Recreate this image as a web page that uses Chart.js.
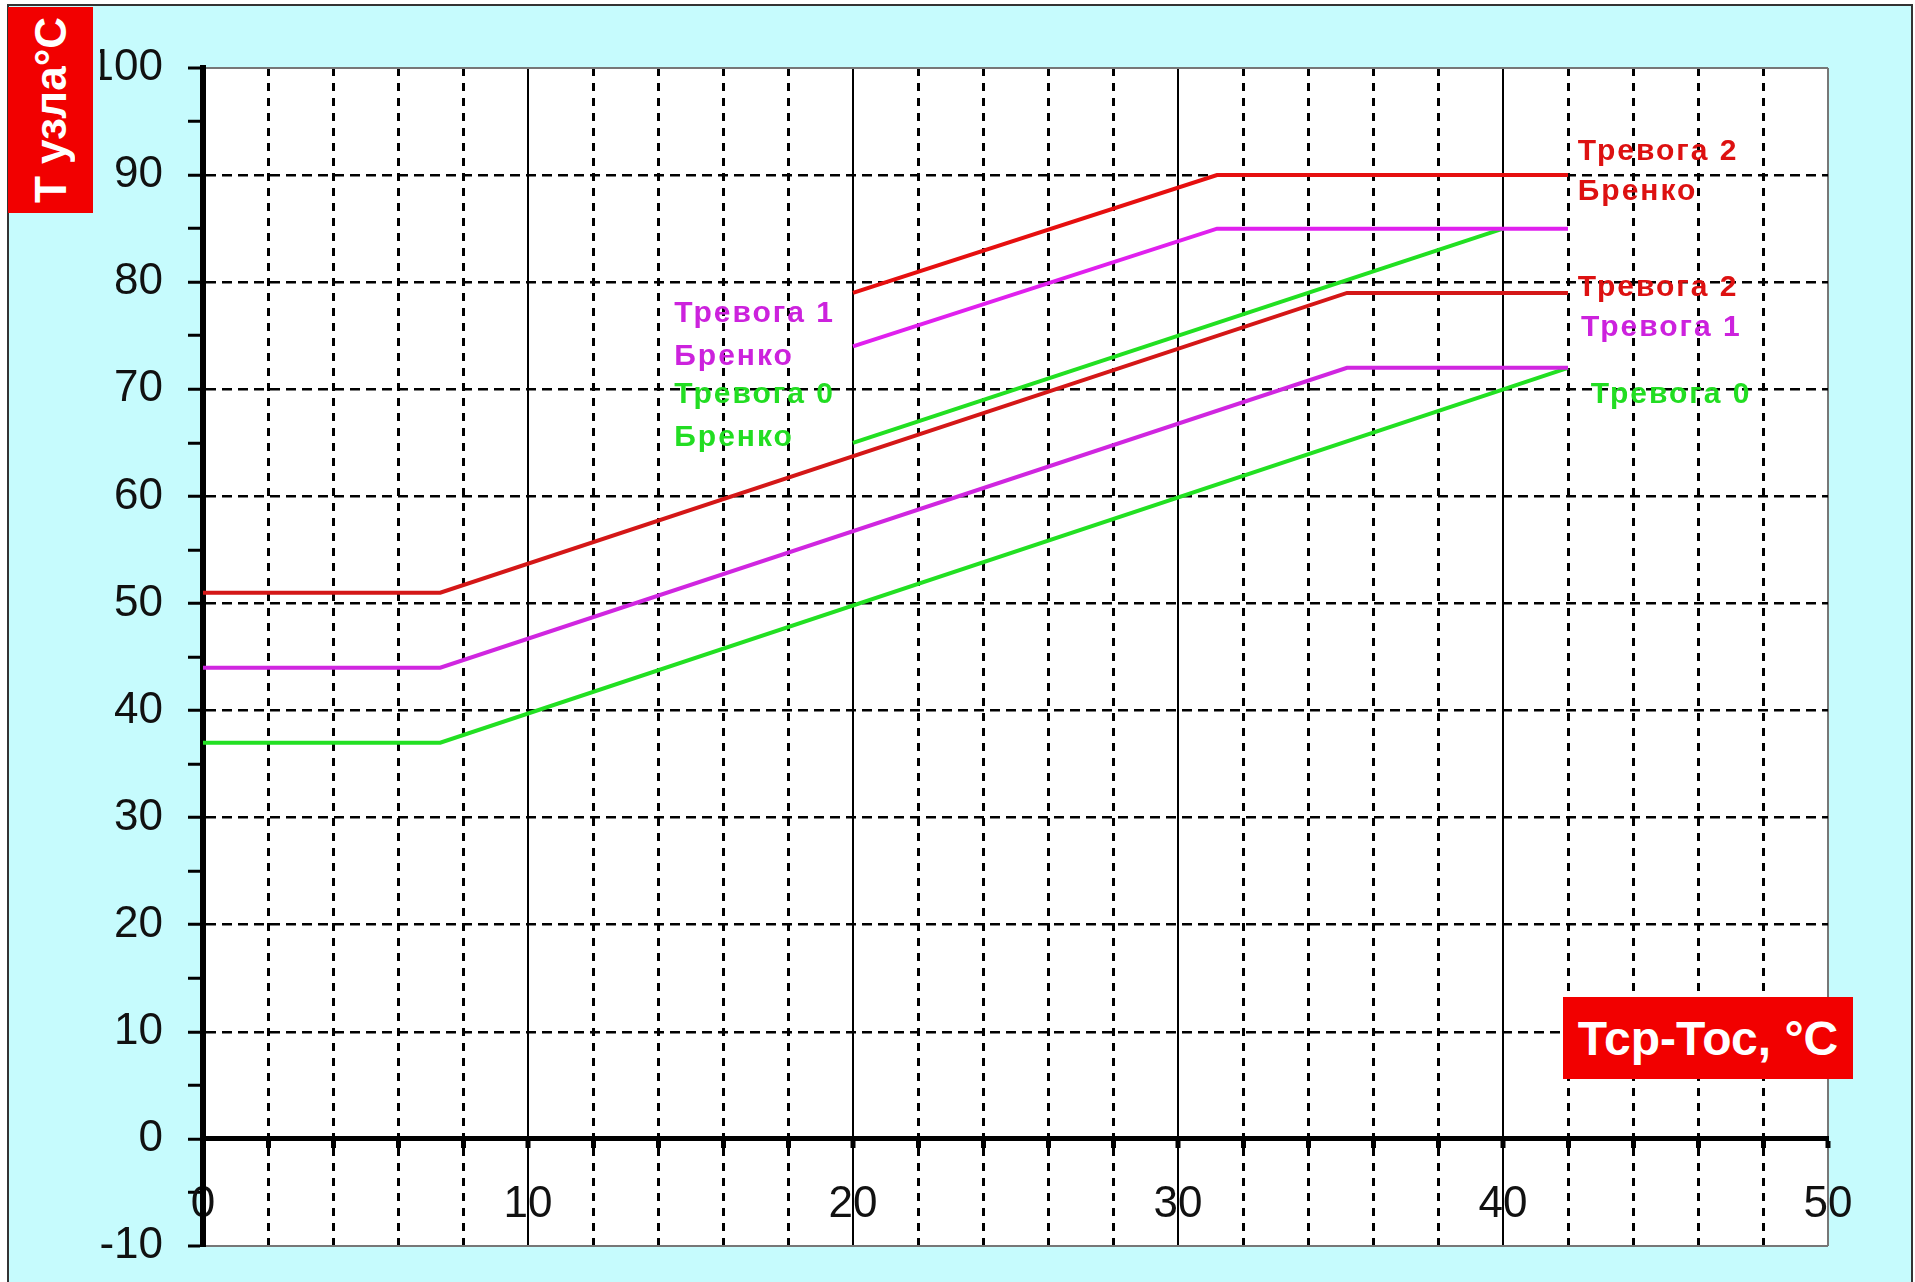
<!DOCTYPE html>
<html>
<head>
<meta charset="utf-8">
<script src="https://cdn.jsdelivr.net/npm/chart.js@4.4.1/dist/chart.umd.min.js"></script>
<style>
  body { margin: 0; background: #fff; width: 1915px; height: 1282px; overflow: hidden; position: relative; }
  .frame { position: absolute; left: 7px; top: 4px; right: 2px; bottom: -10px; border: 2px solid #333; background: #c6fbfd; }
  #myChart { position: absolute; left: 0; top: 0; }
  .titre { position: absolute; background: #f20000; color: #fff; font-family: "Liberation Sans", Arial, sans-serif; font-weight: bold;
           display: flex; align-items: center; justify-content: center; }
  .titre--y { left: 8px; top: 7px; width: 85px; height: 206px; font-size: 44px; }
  .titre--y span { writing-mode: vertical-rl; transform: rotate(180deg); }
  .titre--x { left: 1563px; top: 997px; width: 290px; height: 82px; font-size: 48px; }
</style>
</head>
<body>
<div class="frame"></div>
<canvas id="myChart" width="1915" height="1282"></canvas>
<div class="titre titre--y"><span>Т узла°С</span></div>
<div class="titre titre--x">Тср-Тос, °С</div>
<script>
// ---- donnees ----
const xBrenko2 = [20, 31.2, 42];
const yBrenko2 = [79, 90, 90];
const xBrenko1 = [20, 31.2, 42];
const yBrenko1 = [74, 85, 85];
const xBrenko0 = [20, 40];
const yBrenko0 = [65, 85];

const xAlarm2 = [0, 7.3, 35.2, 42];
const yAlarm2 = [51, 51, 79, 79];
const xAlarm1 = [0, 7.3, 35.2, 42];
const yAlarm1 = [44, 44, 72, 72];
const xAlarm0 = [0, 7.3, 42];
const yAlarm0 = [37, 37, 72];

// etiquettes des courbes (texte, x, y)
const labelTexts = ["Тревога 2", "Бренко", "Тревога 2", "Тревога 1", "Тревога 0",
                    "Тревога 1", "Бренко", "Тревога 0", "Бренко"];
const labelX = [42.3, 42.3, 42.3, 42.4, 42.7, 14.5, 14.5, 14.5, 14.5];
const labelY = [92.2, 88.4, 79.5, 75.7, 69.5, 77.1, 73.0, 69.5, 65.5];
const labelColors = ["#dd1111", "#dd1111", "#dd1111", "#cc22dd", "#22dd22",
                     "#cc22dd", "#cc22dd", "#22dd22", "#22dd22"];

const toPoints = (xs, ys) => xs.map((x, i) => ({ x: x, y: ys[i] }));

const makeLine = (label, xs, ys, color) => ({
  label: label,
  data: toPoints(xs, ys),
  borderColor: color,
  borderWidth: 4,
  showLine: true,
  pointRadius: 0,
  tension: 0,
  fill: false
});

// fond blanc de la zone du graphique
const plotBackground = {
  id: 'plotBackground',
  beforeDraw(chart) {
    const { ctx, chartArea } = chart;
    ctx.save();
    ctx.fillStyle = '#fff';
    ctx.fillRect(chartArea.left, chartArea.top, chartArea.right - chartArea.left, chartArea.bottom - chartArea.top);
    ctx.restore();
  }
};

// textes "Тревога ..." places avec les echelles
const curveLabels = {
  id: 'curveLabels',
  afterDatasetsDraw(chart) {
    const { ctx, scales } = chart;
    ctx.save();
    ctx.font = 'bold 30px "Liberation Sans", Arial, sans-serif';
    ctx.letterSpacing = '2px';
    ctx.textAlign = 'left';
    ctx.textBaseline = 'middle';
    labelTexts.forEach((txt, i) => {
      ctx.fillStyle = labelColors[i];
      ctx.fillText(txt, scales.x.getPixelForValue(labelX[i]), scales.y.getPixelForValue(labelY[i]));
    });
    ctx.restore();
  }
};

const isTen = v => v % 10 === 0;

new Chart(document.getElementById('myChart'), {
  type: 'scatter',
  data: {
    datasets: [
      makeLine('Тревога 2 Бренко', xBrenko2, yBrenko2, '#e60f0f'),
      makeLine('Тревога 1 Бренко', xBrenko1, yBrenko1, '#e020ee'),
      makeLine('Тревога 0 Бренко', xBrenko0, yBrenko0, '#22e022'),
      makeLine('Тревога 2', xAlarm2, yAlarm2, '#d41717'),
      makeLine('Тревога 1', xAlarm1, yAlarm1, '#d026e0'),
      makeLine('Тревога 0', xAlarm0, yAlarm0, '#22e022')
    ]
  },
  options: {
    responsive: false,
    animation: false,
    layout: { padding: { left: 100, top: 68, right: 87, bottom: 36 } },
    plugins: { legend: { display: false }, tooltip: { enabled: false } },
    scales: {
      x: {
        type: 'linear',
        min: 0,
        max: 50,
        position: { y: 0 },
        afterFit: s => { s.paddingLeft = 0; s.paddingRight = 0; },
        ticks: {
          stepSize: 2,
          autoSkip: false,
          maxRotation: 0,
          padding: 33,
          color: '#111',
          font: { family: '"Liberation Sans", Arial, sans-serif', size: 44 },
          callback: v => isTen(v) ? v : ''
        },
        grid: {
          color: ctx => ctx.tick && ctx.tick.value === 50 ? '#777' : '#000',
          lineWidth: ctx => ctx.tick && isTen(ctx.tick.value) ? 2 : 3,
          tickLength: 7,
          tickWidth: 5,
          tickColor: '#000'
        },
        border: {
          display: true,
          color: '#000',
          width: 5,
          dash: ctx => ctx.tick && !isTen(ctx.tick.value) ? [8, 7] : []
        }
      },
      y: {
        type: 'linear',
        min: -10,
        max: 100,
        position: 'left',
        afterFit: s => { s.width = 103; s.paddingTop = 0; s.paddingBottom = 0; },
        ticks: {
          stepSize: 5,
          autoSkip: false,
          padding: 25,
          color: '#111',
          font: { family: '"Liberation Sans", Arial, sans-serif', size: 44 },
          callback: v => isTen(v) ? v : ''
        },
        grid: {
          color: ctx => {
            const v = ctx.tick ? ctx.tick.value : 0;
            if (v === 100 || v === -10) return '#777';
            return isTen(v) && v !== 0 ? '#000' : 'rgba(0,0,0,0)';
          },
          lineWidth: ctx => ctx.tick && (ctx.tick.value === 100 || ctx.tick.value === -10) ? 2 : 2.5,
          tickLength: 15,
          tickWidth: 3,
          tickColor: '#000'
        },
        border: {
          display: true,
          color: '#000',
          width: 6,
          dash: ctx => ctx.tick && ctx.tick.value !== 100 && ctx.tick.value !== -10 ? [10, 6] : []
        }
      }
    }
  },
  plugins: [plotBackground, curveLabels]
});
</script>
</body>
</html>
